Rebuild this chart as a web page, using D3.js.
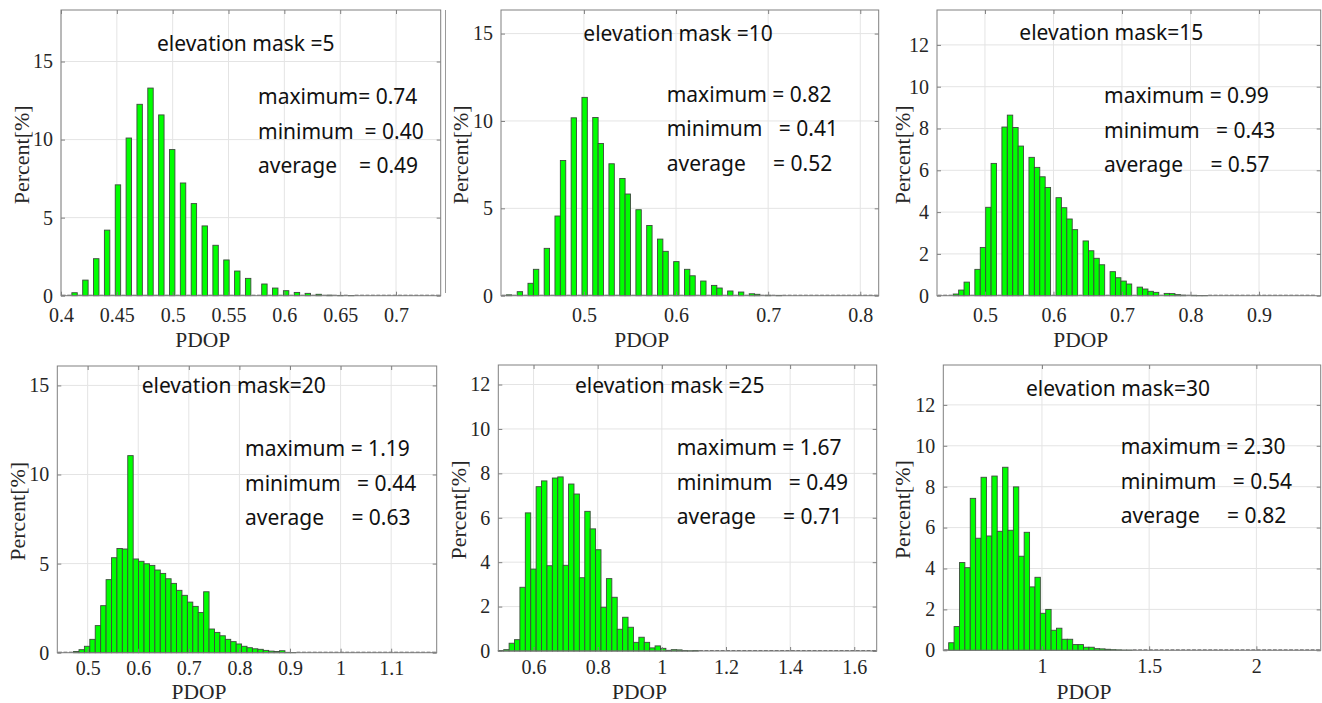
<!DOCTYPE html>
<html>
<head>
<meta charset="utf-8">
<script src="https://cdn.jsdelivr.net/npm/d3@7/dist/d3.min.js"></script>
<style>
  body { margin: 0; background: #fff; }
  svg text { white-space: pre; }
</style>
</head>
<body>
<svg id="chart" width="1322" height="703"></svg>
<script>
// elevation masks (one panel each)
const masks = [5, 10, 15, 20, 25, 30];
const titles = ['elevation mask =5', 'elevation mask =10', 'elevation mask=15',
                'elevation mask=20', 'elevation mask =25', 'elevation mask=30'];
// statistics printed in the panels
const pdopMax = ['0.74', '0.82', '0.99', '1.19', '1.67', '2.30'];
const pdopMin = ['0.40', '0.41', '0.43', '0.44', '0.49', '0.54'];
const pdopAvg = ['0.49', '0.52', '0.57', '0.63', '0.71', '0.82'];
const statLabels = [
  ['maximum= ', 'minimum  = ', 'average    = '],
  ['maximum = ', 'minimum   = ', 'average     = '],
  ['maximum = ', 'minimum   = ', 'average     = '],
  ['maximum = ', 'minimum   = ', 'average     = '],
  ['maximum = ', 'minimum   = ', 'average     = '],
  ['maximum = ', 'minimum   = ', 'average     = ']
];
// x axis limits and histogram bin range (70 bins)
const xLo = [0.40, 0.41, 0.43, 0.44, 0.49, 0.54];
const xHi = [0.74, 0.82, 0.99, 1.19, 1.67, 2.30];
const binHi = [0.74, 0.82, 0.9826, 1.19, 1.67, 2.30];
const yTop = [18.3, 16.35, 13.67, 16.09, 12.88, 13.95];

// percent per bin
const pct5 = [0, 0, 0.19, 0, 1.0, 0, 2.37, 0, 4.2, 0, 7.1, 0, 10.1, 0, 12.26, 0, 13.3, 0, 11.58, 0,
  9.36, 0, 7.22, 0, 5.9, 0, 4.47, 0, 3.23, 0, 2.29, 0, 1.58, 0, 1.11, 0, 0, 0.75, 0, 0.49,
  0, 0.32, 0, 0.21, 0, 0.15, 0, 0.09, 0, 0.04, 0, 0.02, 0, 0.01, 0, 0, 0, 0, 0, 0,
  0, 0, 0, 0, 0, 0, 0, 0, 0, 0];
const pct10 = [0, 0.05, 0, 0.23, 0, 0.71, 1.51, 0, 2.71, 0, 4.56, 7.74, 0, 10.18, 0, 11.35, 0, 10.2, 8.71, 0,
  7.55, 0, 6.71, 5.82, 0, 4.92, 0, 4.02, 0, 3.24, 2.54, 0, 1.95, 0, 1.51, 1.14, 0, 0.84, 0, 0.59,
  0.44, 0, 0.27, 0, 0.21, 0, 0.11, 0.08, 0, 0.03, 0, 0.02, 0, 0, 0, 0, 0, 0, 0, 0,
  0, 0, 0, 0, 0, 0, 0, 0, 0, 0];
const pct15 = [0, 0, 0, 0.08, 0.27, 0.65, 0, 1.26, 2.31, 4.23, 6.33, 0, 8.07, 8.64, 8.05, 7.16, 0, 6.62, 6.14, 5.69,
  5.18, 0, 4.69, 4.21, 3.67, 3.16, 0, 2.62, 2.15, 1.79, 1.48, 0, 1.15, 0.86, 0.70, 0.56, 0, 0.41, 0.32, 0.21,
  0.16, 0, 0.11, 0.10, 0.05, 0.03, 0, 0.02, 0.01, 0.01, 0, 0, 0, 0, 0, 0, 0, 0, 0, 0,
  0, 0, 0, 0, 0, 0, 0, 0, 0, 0];
const pct20 = [0, 0, 0, 0.07, 0.17, 0.36, 0.75, 1.52, 2.64, 4.1, 5.33, 5.85, 5.82, 11.06, 5.26, 5.13, 4.99, 4.9, 4.64, 4.45,
  4.15, 3.89, 3.5, 3.22, 2.84, 2.6, 2.26, 3.42, 1.33, 1.14, 0.95, 0.75, 0.62, 0.49, 0.36, 0.28, 0.22, 0.19, 0.13, 0.09,
  0.07, 0.11, 0.02, 0.01, 0, 0, 0, 0, 0, 0, 0, 0, 0, 0, 0, 0, 0, 0, 0, 0,
  0, 0, 0, 0, 0, 0, 0, 0, 0, 0];
const pct25 = [0.02, 0.06, 0.35, 0.51, 2.87, 6.22, 3.69, 7.4, 7.66, 3.84, 7.79, 7.84, 3.86, 7.52, 7.07, 3.3, 6.29, 5.5, 4.56, 1.97,
  3.26, 2.42, 0.98, 1.52, 1.07, 0.39, 0.62, 0.39, 0.14, 0.23, 0.12, 0.03, 0.06, 0.05, 0.02, 0.01, 0.02, 0, 0, 0,
  0, 0, 0, 0, 0, 0, 0, 0, 0, 0, 0, 0, 0, 0, 0, 0, 0, 0, 0, 0,
  0, 0, 0, 0, 0, 0, 0, 0, 0, 0];
const pct30 = [0, 0.37, 1.16, 4.29, 4.04, 7.43, 5.48, 8.46, 5.59, 8.52, 5.82, 8.95, 5.87, 7.99, 4.6, 5.77, 3.1, 3.57, 1.81, 2.0,
  0.98, 1.08, 0.54, 0.54, 0.28, 0.28, 0.15, 0.15, 0.08, 0.07, 0.05, 0.03, 0.02, 0.01, 0.01, 0, 0, 0, 0, 0,
  0, 0, 0, 0, 0, 0, 0, 0, 0, 0, 0, 0, 0, 0, 0, 0, 0, 0, 0, 0,
  0, 0, 0, 0, 0, 0, 0, 0, 0, 0];
const series = [pct5, pct10, pct15, pct20, pct25, pct30];

// tick labels
const xTicks = [
  [0.4, 0.45, 0.5, 0.55, 0.6, 0.65, 0.7],
  [0.5, 0.6, 0.7, 0.8],
  [0.5, 0.6, 0.7, 0.8, 0.9],
  [0.5, 0.6, 0.7, 0.8, 0.9, 1, 1.1],
  [0.6, 0.8, 1, 1.2, 1.4, 1.6],
  [1, 1.5, 2]
];
const yTicks = [
  [0, 5, 10, 15], [0, 5, 10, 15], [0, 2, 4, 6, 8, 10, 12],
  [0, 5, 10, 15], [0, 2, 4, 6, 8, 10, 12], [0, 2, 4, 6, 8, 10, 12]
];

// panel boxes and text placement (pixels)
const layout = [
  { x0: 61, x1: 440.7, y0: 10, y1: 295.7, tx: 157, ty: 50.5, sx: 258, sy: 104, lx: 28.5, by: 346.7, pad: 12 },
  { x0: 501, x1: 878.7, y0: 10, y1: 295.7, tx: 583.3, ty: 40.7, sx: 666.7, sy: 101.7, lx: 468.3, by: 346.7, pad: 12 },
  { x0: 937, x1: 1320.7, y0: 10, y1: 295.7, tx: 1019.3, ty: 40, sx: 1104, sy: 103.3, lx: 910, by: 346.7, pad: 12 },
  { x0: 57.3, x1: 436.7, y0: 366, y1: 652.7, tx: 141.7, ty: 393.3, sx: 245, sy: 456, lx: 25, by: 698.5, pad: 8 },
  { x0: 498.3, x1: 876.7, y0: 365, y1: 651, tx: 575, ty: 393.3, sx: 676.7, sy: 455.3, lx: 466, by: 698.5, pad: 9 },
  { x0: 943.3, x1: 1320.7, y0: 365, y1: 650.3, tx: 1026, ty: 395.7, sx: 1120.7, sy: 454, lx: 910, by: 698.5, pad: 9 }
];

const svg = d3.select('#chart');
const serif = '"Liberation Serif", "Times New Roman", serif';
const sans = '"Noto Sans", "Open Sans", sans-serif';
const boxColor = '#808080';

// stray frame line at the left of the second panel
svg.append('line')
  .attr('x1', 445.5).attr('x2', 445.5).attr('y1', 10).attr('y2', 293)
  .attr('stroke', '#9a9a9a').attr('stroke-width', 1);

masks.forEach(function (m, p) {
  const L = layout[p];
  const data = series[p];
  const x = d3.scaleLinear().domain([xLo[p], xHi[p]]).range([L.x0, L.x1]);
  const y = d3.scaleLinear().domain([0, yTop[p]]).range([L.y1, L.y0]);
  const w = (binHi[p] - xLo[p]) / data.length;
  const g = svg.append('g');

  // grid
  g.selectAll('.gx').data(xTicks[p]).enter().append('line')
    .attr('x1', d => x(d)).attr('x2', d => x(d))
    .attr('y1', L.y0).attr('y2', L.y1)
    .attr('stroke', '#e4e4e4');
  g.selectAll('.gy').data(yTicks[p]).enter().append('line')
    .attr('x1', L.x0).attr('x2', L.x1)
    .attr('y1', d => y(d)).attr('y2', d => y(d))
    .attr('stroke', '#e4e4e4');

  // empty bins show as short dashes on the baseline
  const bins = data.map((v, i) => ({ v: v, a: xLo[p] + i * w, b: xLo[p] + (i + 1) * w }));
  g.selectAll('.zero').data(bins.filter(d => d.v === 0)).enter().append('line')
    .attr('x1', d => x(d.a) + 0.8).attr('x2', d => x(d.b) - 0.8)
    .attr('y1', y(0) - 0.5).attr('y2', y(0) - 0.5)
    .attr('stroke', '#6a6a6a').attr('stroke-width', 1);

  // bars
  g.selectAll('.bar').data(bins.filter(d => d.v > 0)).enter().append('rect')
    .attr('x', d => x(d.a))
    .attr('width', d => x(d.b) - x(d.a))
    .attr('y', d => y(d.v))
    .attr('height', d => y(0) - y(d.v))
    .attr('fill', '#00ff00')
    .attr('stroke', '#3d4a3d')
    .attr('stroke-width', 0.9);

  // axes (ticks inside, box on)
  const fmt = d3.format('~g');
  const ax = g.append('g').attr('transform', 'translate(0,' + L.y1 + ')')
    .call(d3.axisBottom(x).tickValues(xTicks[p]).tickFormat(fmt).tickSize(-4).tickPadding(L.pad));
  const at = g.append('g').attr('transform', 'translate(0,' + L.y0 + ')')
    .call(d3.axisTop(x).tickValues(xTicks[p]).tickFormat('').tickSize(-4));
  const ay = g.append('g').attr('transform', 'translate(' + L.x0 + ',0)')
    .call(d3.axisLeft(y).tickValues(yTicks[p]).tickFormat(fmt).tickSize(-4).tickPadding(8));
  const ar = g.append('g').attr('transform', 'translate(' + L.x1 + ',0)')
    .call(d3.axisRight(y).tickValues(yTicks[p]).tickFormat('').tickSize(-4));
  [ax, at, ay, ar].forEach(function (a) {
    a.select('.domain').remove();
    a.selectAll('line').attr('stroke', boxColor);
    a.selectAll('text').attr('font-family', serif).attr('font-size', 20).attr('fill', '#262626');
  });

  g.append('rect')
    .attr('x', L.x0).attr('y', L.y0)
    .attr('width', L.x1 - L.x0).attr('height', L.y1 - L.y0)
    .attr('fill', 'none').attr('stroke', boxColor).attr('stroke-width', 1);

  // axis labels
  g.append('text')
    .attr('x', (L.x0 + L.x1) / 2 - 48).attr('y', L.by)
    .attr('text-anchor', 'middle')
    .attr('font-family', serif).attr('font-size', 21.5).attr('fill', '#262626')
    .text('PDOP');
  g.append('text')
    .attr('transform', 'translate(' + L.lx + ',' + ((L.y0 + L.y1) / 2 + 2) + ') rotate(-90)')
    .attr('text-anchor', 'middle')
    .attr('font-family', serif).attr('font-size', 22).attr('fill', '#262626')
    .text('Percent[%]');

  // title and statistics
  g.append('text')
    .attr('x', L.tx).attr('y', L.ty)
    .attr('font-family', sans).attr('font-size', 21).attr('fill', '#111')
    .text(titles[p]);
  const vals = [pdopMax[p], pdopMin[p], pdopAvg[p]];
  g.selectAll('.stat').data(vals).enter().append('text')
    .attr('x', L.sx).attr('y', (d, i) => L.sy + i * 34.5)
    .attr('font-family', sans).attr('font-size', 21).attr('fill', '#111')
    .text((d, i) => statLabels[p][i] + d);
});
</script>
</body>
</html>
